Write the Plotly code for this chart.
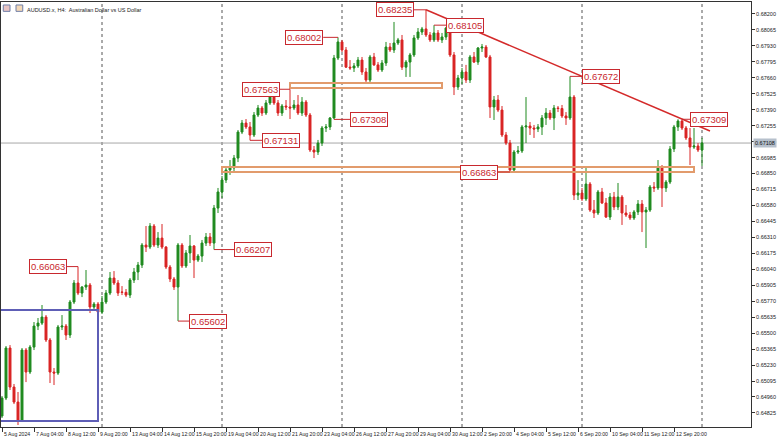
import plotly.graph_objects as go

# ---------------- data (AUDUSD.x, H4) ----------------
opens = [0.64799,0.64951,0.65374,0.65044,0.64917,0.64765,0.65357,0.65171,0.65382,0.65560,
0.65585,0.65636,0.65442,0.65171,0.65162,0.65552,0.65560,0.65484,0.65763,0.65924,
0.65839,0.65890,0.65907,0.65721,0.65746,0.65678,0.65763,0.65839,0.65966,0.65924,
0.65848,0.65845,0.65822,0.65949,0.66017,0.66076,0.66245,0.66228,0.66406,0.66245,
0.66304,0.66228,0.66059,0.65958,0.65890,0.66245,0.66068,0.66178,0.66237,0.66118,
0.66152,0.66262,0.66313,0.66262,0.66558,0.66694,0.66795,0.66880,0.66897,0.66981,
0.67201,0.67277,0.67244,0.67176,0.67345,0.67404,0.67362,0.67447,0.67497,0.67447,
0.67362,0.67421,0.67413,0.67404,0.67430,0.67362,0.67455,0.67345,0.67049,0.67032,
0.67108,0.67235,0.67244,0.67320,0.67827,0.67963,0.67895,0.67750,0.67743,0.67760,
0.67810,0.67709,0.67641,0.67836,0.67769,0.67726,0.67785,0.67920,0.67895,0.67954,
0.67980,0.67750,0.67793,0.67853,0.67997,0.68047,0.68073,0.68022,0.67980,0.68039,
0.67980,0.68005,0.68081,0.67853,0.67582,0.67658,0.67709,0.67641,0.67836,0.67793,
0.67912,0.67920,0.67836,0.67413,0.67472,0.67387,0.67176,0.67108,0.66880,0.67032,
0.67041,0.67244,0.67252,0.67235,0.67227,0.67244,0.67320,0.67362,0.67320,0.67404,
0.67400,0.67337,0.67320,0.67497,0.66668,0.66685,0.66635,0.66761,0.66541,0.66516,
0.66694,0.66601,0.66482,0.66651,0.66567,0.66651,0.66516,0.66499,0.66474,0.66525,
0.66592,0.66525,0.66541,0.66736,0.66728,0.66905,0.66728,0.66778,0.67058,0.67244,
0.67294,0.67235,0.67151,0.67074,0.67083,0.67049]
highs = [0.64968,0.65391,0.65399,0.65070,0.65002,0.65374,0.65374,0.65399,0.65594,0.65628,
0.65738,0.65653,0.65459,0.65205,0.65569,0.65653,0.65577,0.65780,0.65949,0.66063,
0.65898,0.66034,0.65924,0.65763,0.65763,0.65814,0.65865,0.66017,0.66025,0.65949,
0.65898,0.65873,0.65966,0.66051,0.66102,0.66262,0.66406,0.66431,0.66423,0.66355,
0.66423,0.66237,0.66076,0.65975,0.66262,0.66262,0.66203,0.66330,0.66245,0.66169,
0.66288,0.66347,0.66347,0.66584,0.66728,0.66829,0.66905,0.66964,0.67007,0.67218,
0.67303,0.67311,0.67286,0.67370,0.67430,0.67421,0.67472,0.67514,0.67514,0.67472,
0.67438,0.67472,0.67563,0.67472,0.67514,0.67497,0.67472,0.67362,0.67083,0.67134,
0.67252,0.67269,0.67328,0.67853,0.68002,0.67980,0.67920,0.67810,0.67785,0.67836,
0.67836,0.67743,0.67853,0.67870,0.67793,0.67810,0.67963,0.67954,0.68132,0.67997,
0.68022,0.67810,0.67870,0.68022,0.68081,0.68090,0.68235,0.68047,0.68105,0.68064,
0.68039,0.68090,0.68090,0.67878,0.67684,0.67743,0.67769,0.67853,0.67878,0.67920,
0.67946,0.67937,0.67853,0.67506,0.67514,0.67421,0.67201,0.67134,0.67049,0.67083,
0.67261,0.67497,0.67286,0.67261,0.67269,0.67345,0.67404,0.67387,0.67430,0.67421,
0.67430,0.67370,0.67672,0.67514,0.66795,0.66728,0.66897,0.66778,0.66626,0.66711,
0.66728,0.66643,0.66685,0.66694,0.66770,0.66668,0.66584,0.66525,0.66541,0.66626,
0.66626,0.66567,0.66753,0.66778,0.66964,0.66922,0.66795,0.67083,0.67261,0.67309,
0.67309,0.67252,0.67235,0.67235,0.67108,0.67151]
lows = [0.64782,0.64934,0.65019,0.64900,0.64723,0.64748,0.65086,0.65154,0.65357,0.65526,
0.65569,0.65425,0.65078,0.65061,0.65146,0.65526,0.65442,0.65459,0.65746,0.65822,
0.65805,0.65865,0.65670,0.65704,0.65662,0.65662,0.65746,0.65822,0.65907,0.65814,
0.65822,0.65805,0.65797,0.65924,0.65949,0.66051,0.66186,0.66211,0.66228,0.66220,
0.66211,0.66042,0.65932,0.65865,0.65602,0.66051,0.66051,0.66093,0.65966,0.66102,
0.66102,0.66237,0.66237,0.66207,0.66516,0.66643,0.66770,0.66838,0.66863,0.66947,
0.67184,0.67227,0.67131,0.67159,0.67328,0.67337,0.67345,0.67430,0.67430,0.67337,
0.67337,0.67387,0.67311,0.67387,0.67345,0.67337,0.67328,0.67032,0.66981,0.67007,
0.67083,0.67201,0.67218,0.67308,0.67810,0.67878,0.67743,0.67726,0.67709,0.67743,
0.67684,0.67616,0.67624,0.67760,0.67709,0.67709,0.67760,0.67878,0.67870,0.67937,
0.67726,0.67667,0.67667,0.67836,0.67980,0.68022,0.68005,0.67963,0.67963,0.67963,
0.67954,0.67980,0.67836,0.67514,0.67557,0.67607,0.67616,0.67616,0.67785,0.67769,
0.67878,0.67827,0.67320,0.67303,0.67370,0.67159,0.67091,0.66863,0.66863,0.67015,
0.67024,0.67108,0.67176,0.67151,0.67201,0.67176,0.67261,0.67303,0.67218,0.67370,
0.67320,0.67261,0.67303,0.66626,0.66626,0.66618,0.66618,0.66525,0.66474,0.66499,
0.66592,0.66474,0.66457,0.66541,0.66541,0.66415,0.66482,0.66457,0.66457,0.66499,
0.66355,0.66220,0.66525,0.66694,0.66711,0.66567,0.66694,0.66761,0.67032,0.67210,
0.67218,0.67134,0.66922,0.67058,0.67032,0.66914]
closes = [0.64951,0.65374,0.65044,0.64917,0.64765,0.65357,0.65171,0.65382,0.65560,0.65585,
0.65636,0.65442,0.65171,0.65162,0.65552,0.65560,0.65484,0.65763,0.65924,0.65839,
0.65890,0.65907,0.65721,0.65746,0.65678,0.65763,0.65839,0.65966,0.65924,0.65839,
0.65845,0.65822,0.65949,0.66017,0.66076,0.66245,0.66228,0.66406,0.66245,0.66304,
0.66228,0.66059,0.65958,0.65890,0.66245,0.66068,0.66178,0.66237,0.66118,0.66152,
0.66262,0.66313,0.66262,0.66558,0.66694,0.66795,0.66880,0.66897,0.66981,0.67201,
0.67277,0.67244,0.67176,0.67345,0.67404,0.67362,0.67447,0.67497,0.67447,0.67362,
0.67421,0.67413,0.67404,0.67430,0.67362,0.67455,0.67345,0.67049,0.67032,0.67108,
0.67235,0.67244,0.67320,0.67827,0.67963,0.67895,0.67750,0.67743,0.67760,0.67810,
0.67709,0.67641,0.67836,0.67769,0.67726,0.67785,0.67920,0.67895,0.67954,0.67980,
0.67750,0.67793,0.67853,0.67997,0.68047,0.68073,0.68022,0.67980,0.68039,0.67980,
0.68005,0.68081,0.67853,0.67582,0.67658,0.67709,0.67641,0.67836,0.67793,0.67912,
0.67920,0.67836,0.67413,0.67472,0.67387,0.67176,0.67108,0.66880,0.67032,0.67041,
0.67244,0.67252,0.67235,0.67227,0.67244,0.67320,0.67362,0.67320,0.67404,0.67400,
0.67337,0.67320,0.67497,0.66668,0.66685,0.66635,0.66761,0.66541,0.66516,0.66694,
0.66601,0.66482,0.66651,0.66567,0.66651,0.66516,0.66499,0.66474,0.66525,0.66592,
0.66525,0.66541,0.66736,0.66728,0.66905,0.66728,0.66778,0.67058,0.67244,0.67294,
0.67235,0.67151,0.67074,0.67083,0.67049,0.67108]

x_tick_labels = ["5 Aug 2024", "7 Aug 04:00", "8 Aug 12:00", "9 Aug 20:00", "13 Aug 04:00",
                 "14 Aug 12:00", "15 Aug 20:00", "19 Aug 04:00", "20 Aug 12:00", "21 Aug 20:00",
                 "23 Aug 04:00", "26 Aug 12:00", "27 Aug 20:00", "29 Aug 04:00", "30 Aug 12:00",
                 "2 Sep 20:00", "4 Sep 04:00", "5 Sep 12:00", "6 Sep 20:00", "10 Sep 04:00",
                 "11 Sep 12:00", "12 Sep 20:00"]
y_tick_labels = ["0.64825", "0.64960", "0.65095", "0.65230", "0.65365", "0.65500", "0.65635",
                 "0.65770", "0.65905", "0.66040", "0.66175", "0.66310", "0.66445", "0.66580",
                 "0.66715", "0.66850", "0.66985", "0.67120", "0.67255", "0.67390", "0.67525",
                 "0.67660", "0.67795", "0.67930", "0.68065", "0.68200"]
week_starts = [25, 55, 85, 115, 145, 175]          # bar index of each Monday 00:00

# marked swing points: (bar index, 'high'/'low', side of label, leader length in bars)
swing_marks = [(106, "high", "left", 3), (108, "high", "right", 3), (84, "high", "left", 3.7),
               (72, "high", "left", 2.5), (62, "low", "right", 3), (83, "low", "right", 4),
               (142, "high", "right", 3), (170, "high", "right", 2), (127, "low", "left", 3),
               (53, "low", "right", 5), (44, "low", "right", 2.8), (19, "high", "left", 2.8)]

# drawn objects (data coordinates)
blue_box = dict(x0=-0.5, x1=24, y0=0.64756, y1=0.65695)
orange_boxes = [dict(x0=72, x1=110, y0=0.67574, y1=0.67616),
                dict(x0=55, x1=173, y0=0.66863, y1=0.66905)]
trend_line = dict(x0=106, y0=0.68235, x1=177, y1=0.67210)

# ---------------- figure ----------------
idx = list(range(len(opens)))
bull, bear = "#1F8A1F", "#D92424"
lab_red = "#C8282E"

fig = go.Figure(go.Candlestick(
    x=idx, open=opens, high=highs, low=lows, close=closes,
    increasing=dict(line=dict(color=bull, width=1), fillcolor=bull),
    decreasing=dict(line=dict(color=bear, width=1), fillcolor=bear),
    whiskerwidth=0, hoverinfo="skip", showlegend=False))

shapes = []
for w in week_starts:
    shapes.append(dict(type="line", xref="x", yref="paper", x0=w, x1=w, y0=0, y1=1,
                       line=dict(color="#555555", width=1, dash="dot"), layer="below"))
last = closes[-1]
shapes.append(dict(type="line", xref="paper", yref="y", x0=0, x1=1, y0=last, y1=last,
                   line=dict(color="#A8A8A8", width=1), layer="below"))
shapes.append(dict(type="rect", xref="x", yref="y", **blue_box,
                   line=dict(color="#5E5EB6", width=2)))
for b in orange_boxes:
    shapes.append(dict(type="rect", xref="x", yref="y", **b,
                       line=dict(color="#E29B6C", width=2)))
shapes.append(dict(type="line", xref="x", yref="y", **trend_line,
                   line=dict(color="#D42A2A", width=1.5)))

annotations = []
for bar, kind, side, ln in swing_marks:
    v = highs[bar] if kind == "high" else lows[bar]
    end = bar - ln if side == "left" else bar + ln
    shapes.append(dict(type="line", xref="x", yref="y", x0=bar, x1=end, y0=v, y1=v,
                       line=dict(color=lab_red, width=1)))
    annotations.append(dict(x=end, y=v, xref="x", yref="y", text=f"{v:.5f}", showarrow=False,
                            xanchor="right" if side == "left" else "left", yanchor="middle",
                            font=dict(family="Liberation Sans, Arial", size=9.5, color=lab_red),
                            bgcolor="white", bordercolor=lab_red, borderwidth=1, borderpad=1))

small = "Liberation Sans Narrow, Liberation Sans, Arial"
for k, t in enumerate(x_tick_labels):
    annotations.append(dict(x=8 * k, y=0, xref="x", yref="paper", text=t, showarrow=False,
                            xanchor="left", yanchor="top", xshift=0, yshift=-2,
                            font=dict(family=small, size=5.2, color="#222")))

annotations.append(dict(x=1, y=last, xref="paper", yref="y", text=f"{last:.5f}", showarrow=False,
                        xanchor="left", yanchor="middle", xshift=2,
                        font=dict(family=small, size=5.5, color="#111"),
                        bgcolor="#B6C0CC", borderpad=1))
annotations.append(dict(x=0.032, y=0.992, xref="paper", yref="paper",
                        text="AUDUSD.x, H4:  Australian Dollar vs US Dollar", showarrow=False,
                        xanchor="left", yanchor="top",
                        font=dict(family=small, size=5.5, color="#222")))
shapes.append(dict(type="rect", xref="paper", yref="paper", x0=0.003, x1=0.012, y0=0.978, y1=0.993,
                   line=dict(color="#6F7FA8", width=1), fillcolor="#E8C4C4"))
shapes.append(dict(type="rect", xref="paper", yref="paper", x0=0.020, x1=0.029, y0=0.978, y1=0.993,
                   line=dict(color="#6F7FA8", width=1), fillcolor="#F4D9B8"))

fig.update_layout(
    width=778, height=441,
    margin=dict(l=1, r=27, t=2, b=14),
    paper_bgcolor="white", plot_bgcolor="white",
    shapes=shapes, annotations=annotations,
    showlegend=False,
    xaxis=dict(range=[-0.25, 187.25], showgrid=False, zeroline=False, showline=True, mirror=True,
               linecolor="#333", linewidth=1, ticks="outside", ticklen=4, tickcolor="#333",
               tickvals=[8 * k for k in range(len(x_tick_labels))], showticklabels=False,
               rangeslider=dict(visible=False), automargin=False, fixedrange=True),
    yaxis=dict(range=[0.64706, 0.68301], side="right", showgrid=False, zeroline=False,
               showline=True, mirror=True, linecolor="#333", linewidth=1,
               ticks="outside", ticklen=3, tickcolor="#333",
               tickvals=[float(t) for t in y_tick_labels], ticktext=y_tick_labels,
               tickfont=dict(family=small, size=5.5, color="#222"), automargin=False,
               fixedrange=True),
)

fig.write_html("out.html", config={"displayModeBar": False},
               post_script="document.body.style.margin='0';document.body.style.padding='0';")
